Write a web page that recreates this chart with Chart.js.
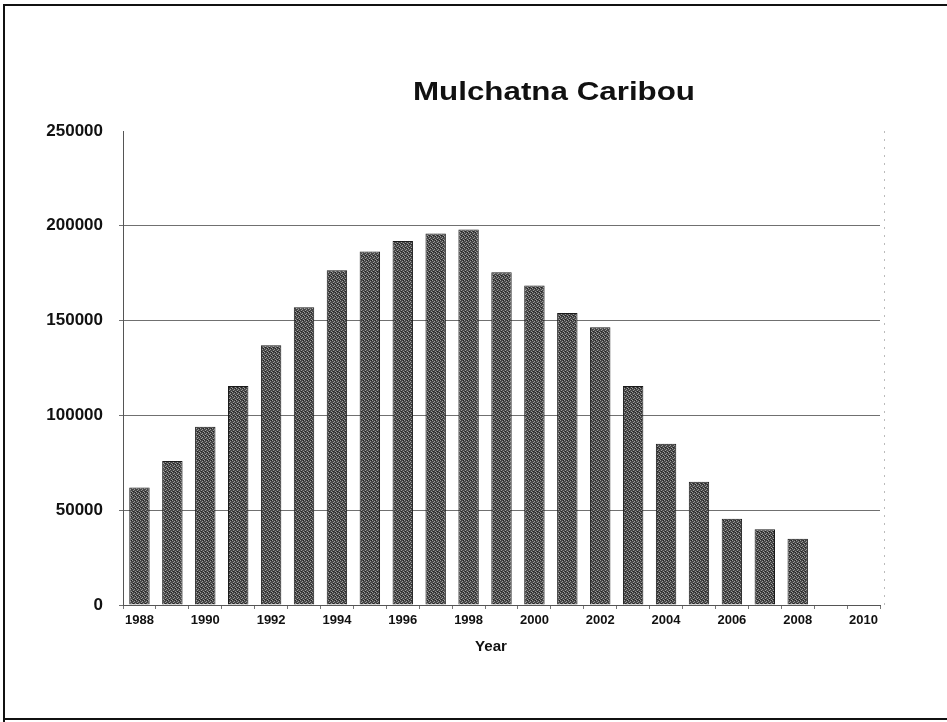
<!DOCTYPE html>
<html>
<head>
<meta charset="utf-8">
<script src="https://cdn.jsdelivr.net/npm/chart.js@4.4.1/dist/chart.umd.min.js"></script>
<style>
  html, body { margin: 0; padding: 0; background: #fff; }
  canvas { display: block; }
</style>
</head>
<body>
<canvas id="myChart" width="947" height="722"></canvas>
<script>
"use strict";

// data
var years = ["1988", "1989", "1990", "1991", "1992", "1993", "1994", "1995", "1996", "1997", "1998",
             "1999", "2000", "2001", "2002", "2003", "2004", "2005", "2006", "2007", "2008", "2009", "2010"];
var caribou = [62000, 76000, 94000, 115500, 137000, 157000, 176500, 186500, 192000, 196000, 198000,
               175500, 168500, 154000, 146500, 115500, 85000, 65000, 45500, 40000, 35000, null, null];
var yTicks = [0, 50000, 100000, 150000, 200000, 250000];

var FONT = "'Liberation Sans', Arial, sans-serif";

// grainy grey fill like the scanned bars
function grainPattern() {
    var c = document.createElement("canvas");
    c.width = 4; c.height = 4;
    var g = c.getContext("2d");
    g.fillStyle = "#474747";
    g.fillRect(0, 0, 4, 4);
    g.fillStyle = "#9a9a9a";
    g.fillRect(0, 0, 1, 1);
    g.fillRect(2, 1, 1, 1);
    g.fillRect(1, 2, 1, 1);
    g.fillRect(3, 3, 1, 1);
    g.fillStyle = "#222";
    g.fillRect(3, 0, 1, 1);
    g.fillRect(1, 3, 1, 1);
    return document.getElementById("myChart").getContext("2d").createPattern(c, "repeat");
}

// draws a text stretched to a given width (the scan is wider than the font)
function wideText(c, text, cx, y, font, width) {
    c.save();
    c.font = font;
    var w = c.measureText(text).width;
    c.translate(cx, y);
    c.scale(width / w, 1);
    c.textAlign = "center";
    c.fillText(text, 0, 0);
    c.restore();
}

var decor = {
    id: "decor",
    beforeDraw: function(chart) {
        var c = chart.ctx;
        c.save();
        c.fillStyle = "#fff";
        c.fillRect(0, 0, chart.width, chart.height);
        c.restore();
    },
    afterDraw: function(chart) {
        var c = chart.ctx;
        var a = chart.chartArea;
        c.save();
        // outer frame
        c.strokeStyle = "#111";
        c.lineWidth = 2;
        c.beginPath();
        c.moveTo(4, 722);
        c.lineTo(4, 5);
        c.lineTo(947, 5);
        c.moveTo(4, 719);
        c.lineTo(947, 719);
        c.stroke();
        // faint plot border on the right
        c.strokeStyle = "#bbb";
        c.lineWidth = 1;
        c.setLineDash([2, 6]);
        c.beginPath();
        c.moveTo(a.right + 4.5, a.top);
        c.lineTo(a.right + 4.5, a.bottom);
        c.stroke();
        c.setLineDash([]);
        c.fillStyle = "#111";
        c.textBaseline = "alphabetic";
        // title
        wideText(c, "Mulchatna Caribou", 554, 100, "bold 25px " + FONT, 282);
        // axis title
        wideText(c, "Year", 491, 651, "bold 14px " + FONT, 32);
        c.restore();
    }
};

var ctx = document.getElementById("myChart");
var myChart = new Chart(ctx, {
    type: "bar",
    data: {
        labels: years,
        datasets: [{
            label: "Caribou",
            data: caribou,
            backgroundColor: grainPattern(),
            borderColor: "#1a1a1a",
            borderWidth: 1,
            barPercentage: 0.62,
            categoryPercentage: 1.0
        }]
    },
    options: {
        responsive: false,
        animation: false,
        layout: { padding: { left: 0, right: 67, top: 131, bottom: 60 } },
        plugins: {
            legend: { display: false },
            title: { display: false },
            tooltip: { enabled: false }
        },
        scales: {
            x: {
                afterFit: function(scale) { scale.height = 57; },
                grid: {
                    drawOnChartArea: false,
                    drawTicks: true,
                    tickLength: 4,
                    color: "#777"
                },
                border: { color: "#555", width: 1 },
                ticks: {
                    autoSkip: false,
                    maxRotation: 0,
                    padding: 4,
                    color: "#111",
                    font: { family: FONT, size: 13, weight: "bold" },
                    callback: function(value, index) {
                        return index % 2 === 0 ? years[index] : "";
                    }
                },
                title: { display: false }
            },
            y: {
                min: 0,
                max: 250000,
                afterFit: function(scale) { scale.width = 123; },
                afterBuildTicks: function(scale) {
                    scale.ticks = yTicks.map(function(v) { return { value: v }; });
                },
                grid: {
                    drawTicks: true,
                    tickLength: 4,
                    color: function(c) {
                        return (c.tick && c.tick.value === 250000) ? "rgba(0,0,0,0)" : "#707070";
                    }
                },
                border: { color: "#555", width: 1, dash: [] },
                ticks: {
                    padding: 16,
                    color: "#111",
                    font: { family: FONT, size: 17, weight: "bold" },
                    callback: function(value) { return String(value); }
                }
            }
        }
    },
    plugins: [decor]
});
</script>
</body>
</html>
